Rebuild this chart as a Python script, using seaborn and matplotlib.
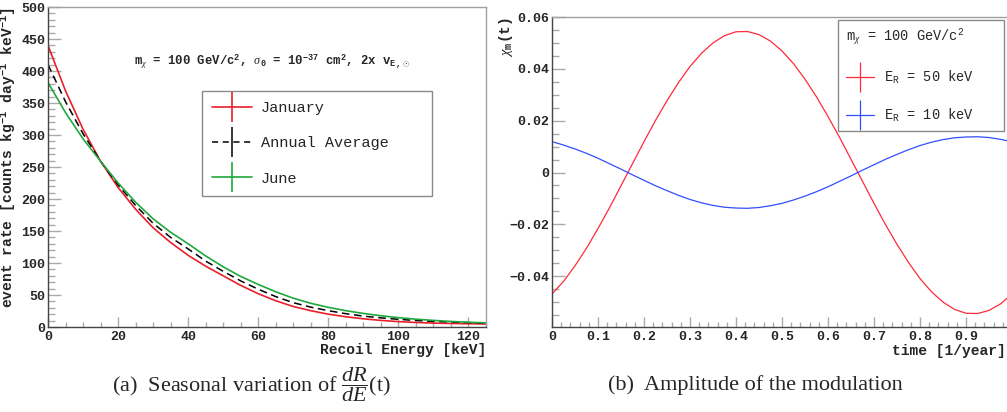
import numpy as np
import pandas as pd
import matplotlib
matplotlib.use("Agg")
import matplotlib.pyplot as plt
import seaborn as sns
from matplotlib.lines import Line2D
from matplotlib.ticker import MultipleLocator
from matplotlib.font_manager import FontProperties

# recoil energy [keV] and differential rate
energy = [0, 5, 10, 15, 20, 25, 30, 35, 40, 45, 50, 55, 60,
          65, 70, 75, 80, 85, 90, 95, 100, 105, 110, 115, 120, 125]
rate_january = [440, 369, 309, 259, 218, 184, 155, 132, 112, 95, 80, 65, 52,
                41, 32, 25.5, 20, 16, 12.8, 10.3, 8.4, 7.1, 6.1, 5.5, 5.1, 4.7]
rate_average = [410, 352, 302, 259, 222, 190, 162, 140, 122, 103, 87, 72, 59,
                47.5, 38, 31, 25.5, 20.8, 17, 14.3, 12, 10.2, 8.8, 7.8, 6.9, 6.2]
rate_june = [382, 335, 294, 259, 225, 195, 169, 148, 130, 111, 94, 79, 66.5,
             55, 45, 37, 30.7, 25.5, 21.2, 17.6, 14.6, 12.2, 10.3, 8.7, 7.4, 6.5]

# time [1/year] and modulation amplitude
time = np.arange(0, 1.0001, 0.025)
chi_50kev = [-0.0469, -0.0420, -0.0360, -0.0292, -0.0216, -0.0136, -0.0051, 0.0034,
             0.0119, 0.0201, 0.0277, 0.0347, 0.0409, 0.0460, 0.0500, 0.0528,
             0.0543, 0.0544, 0.0532, 0.0507, 0.0469, 0.0420, 0.0360, 0.0292,
             0.0216, 0.0136, 0.0051, -0.0034, -0.0119, -0.0201, -0.0277, -0.0347,
             -0.0409, -0.0460, -0.0500, -0.0528, -0.0543, -0.0544, -0.0532, -0.0507,
             -0.0469]
chi_10kev = [0.0119, 0.0106, 0.0091, 0.0074, 0.0055, 0.0034, 0.0013, -0.0009,
             -0.0030, -0.0051, -0.0070, -0.0088, -0.0104, -0.0117, -0.0127, -0.0134,
             -0.0137, -0.0138, -0.0135, -0.0128, -0.0119, -0.0106, -0.0091, -0.0074,
             -0.0055, -0.0034, -0.0013, 0.0009, 0.0030, 0.0051, 0.0070, 0.0088,
             0.0104, 0.0117, 0.0127, 0.0134, 0.0137, 0.0138, 0.0135, 0.0128,
             0.0119]

# tick labels of panel (b)
chi_ticks = [-0.04, -0.02, 0, 0.02, 0.04, 0.06]
chi_ticklabels = ['\u22120.04', '\u22120.02', '0', '0.02', '0.04', '0.06']
time_ticks = [0, 0.1, 0.2, 0.3, 0.4, 0.5, 0.6, 0.7, 0.8, 0.9]
time_ticklabels = ['0', '0.1', '0.2', '0.3', '0.4', '0.5', '0.6', '0.7', '0.8', '0.9']

RED = "#e8202c"
GREEN = "#1fa83c"
BLUE = "#3050ff"
RED2 = "#ff2a3c"

sns.set_style("white")
plt.rcParams['font.family'] = ['Liberation Mono', 'DejaVu Sans Mono']
plt.rcParams['mathtext.fontset'] = 'custom'
plt.rcParams['mathtext.rm'] = 'Liberation Mono:bold'
plt.rcParams['mathtext.bf'] = 'Liberation Mono:bold'
plt.rcParams['mathtext.it'] = 'Liberation Serif:italic'

fig = plt.figure(figsize=(10.07, 4.12), dpi=100)
ax1 = fig.add_axes([48/1007, 85/412, 438/1007, 320/412])
ax2 = fig.add_axes([552/1007, 85/412, 460/1007, 310/412])

# panel (a)
sns.lineplot(x=energy, y=rate_january, ax=ax1, color=RED, lw=1.2)
sns.lineplot(x=energy, y=rate_average, ax=ax1, color="black", lw=1.1, linestyle=(0, (5, 3)))
sns.lineplot(x=energy, y=rate_june, ax=ax1, color=GREEN, lw=1.2)
ax1.set_xlim(0, 125)
ax1.set_ylim(0, 500)

# panel (b)
sns.lineplot(x=time, y=chi_50kev, ax=ax2, color=RED2, lw=0.9)
sns.lineplot(x=time, y=chi_10kev, ax=ax2, color=BLUE, lw=0.9)
ax2.set_xlim(0, 1)
ax2.set_ylim(-0.0596, 0.06)

for ax, xmaj, xmin_, ymaj, ymin_ in [(ax1, 20, 5, 50, 10), (ax2, 0.1, 0.02, 0.02, 0.005)]:
    ax.xaxis.set_major_locator(MultipleLocator(xmaj))
    ax.xaxis.set_minor_locator(MultipleLocator(xmin_))
    ax.yaxis.set_major_locator(MultipleLocator(ymaj))
    ax.yaxis.set_minor_locator(MultipleLocator(ymin_))
    ax.tick_params(axis='x', which='major', direction='in', length=7, width=1, color='#aaaaaa', pad=3)
    ax.tick_params(axis='x', which='minor', direction='in', length=3.5, width=1, color='#aaaaaa')
    ax.tick_params(axis='y', which='major', direction='in', length=9.7, width=1, color='#aaaaaa', pad=2)
    ax.tick_params(axis='y', which='minor', direction='in', length=4.9, width=1, color='#aaaaaa')
    ax.tick_params(which='both', bottom=True, left=True, top=False, right=False)
    for lab in ax.get_xticklabels() + ax.get_yticklabels():
        lab.set_fontsize(9.5)
        lab.set_fontweight('bold')
    ax.spines['left'].set_color('#444444')
    ax.spines['bottom'].set_color('#444444')
    ax.spines['top'].set_color('#a0a0a0')
    ax.spines['right'].set_color('#a0a0a0')
    for s in ax.spines.values():
        s.set_linewidth(1.0)

ax2.set_yticks(chi_ticks)
ax2.set_yticklabels(chi_ticklabels, fontsize=9.5, fontweight='bold')
ax2.set_xticks(time_ticks)
ax2.set_xticklabels(time_ticklabels, fontsize=9.5, fontweight='bold')

label_font = dict(fontsize=10.5, fontweight='bold')
ax1.set_xlabel('Recoil Energy [keV]', loc='right', **label_font)
ax1.xaxis.set_label_coords(1.0, -0.05)
ax1.set_ylabel(r'event rate [counts kg$^{\mathrm{-1}}$ day$^{\mathrm{-1}}$ keV$^{\mathrm{-1}}$]',
               loc='top', **label_font)
ax1.yaxis.set_label_coords(-0.068, 1.0)

ax2.set_xlabel('time [1/year]', loc='right', **label_font)
ax2.xaxis.set_label_coords(0.987, -0.055)
ax2.set_ylabel(r'$\chi_{\mathrm{m}}$(t)', loc='top', **label_font)
ax2.yaxis.set_label_coords(-0.08, 1.0)

ax1.text(0.196, 0.828,
         r'm$_{\chi}$ = 100 GeV/c$^{\mathrm{2}}$, $\sigma_{\mathrm{0}}$ = 10$^{\mathrm{-37}}$ cm$^{\mathrm{2}}$, 2x v$_{\mathrm{E,}\odot}$',
         transform=ax1.transAxes, fontsize=8.8, fontweight='bold', va='center', ha='left')

# legends
handles1 = [Line2D([], [], color=RED, lw=1.2, marker='|', markersize=22, mew=1.2),
            Line2D([], [], color='black', lw=1.1, linestyle=(0, (4, 3)), marker='|', markersize=22, mew=1.1),
            Line2D([], [], color=GREEN, lw=1.2, marker='|', markersize=22, mew=1.2)]
leg1 = ax1.legend(handles1, ['January', 'Annual Average', 'June'],
                  loc='upper left', bbox_to_anchor=(0.352, 0.7375, 0.525, 0.0), mode='expand',
                  prop=FontProperties(family='Liberation Mono', size=11),
                  fancybox=False, framealpha=1, edgecolor='#8a8a8a',
                  borderpad=0.65, labelspacing=1.4, handlelength=2.6, handletextpad=0.6,
                  borderaxespad=0)
leg1.get_frame().set_linewidth(1.0)

handles2 = [Line2D([], [], color=RED2, lw=0.9, marker='|', markersize=22, mew=0.9),
            Line2D([], [], color=BLUE, lw=0.9, marker='|', markersize=22, mew=0.9)]
leg2 = ax2.legend(handles2, [r'E$_{\mathregular{R}}$ = 50 keV', r'E$_{\mathregular{R}}$ = 10 keV'],
                  loc='upper left', bbox_to_anchor=(0.622, 0.99, 0.361, 0.0), mode='expand',
                  title=r'm$_{\chi}$ = 100 GeV/c$^{\mathregular{2}}$', alignment='left',
                  title_fontproperties=FontProperties(family='Liberation Mono', size=9.8),
                  prop=FontProperties(family='Liberation Mono', size=9.8),
                  fancybox=False, framealpha=1, edgecolor='#8a8a8a',
                  borderpad=0.55, labelspacing=1.55, handlelength=2.1, handletextpad=0.7,
                  borderaxespad=0)
leg2.get_frame().set_linewidth(1.0)

cap_font = dict(family='Liberation Serif', fontsize=16)
fig.text(0.25, 0.066, r'(a)  Seasonal variation of $\dfrac{dR}{dE}$(t)', ha='center', va='center', **cap_font)
fig.text(0.75, 0.066, '(b)  Amplitude of the modulation', ha='center', va='center', **cap_font)

fig.savefig('out.png', dpi=100)
